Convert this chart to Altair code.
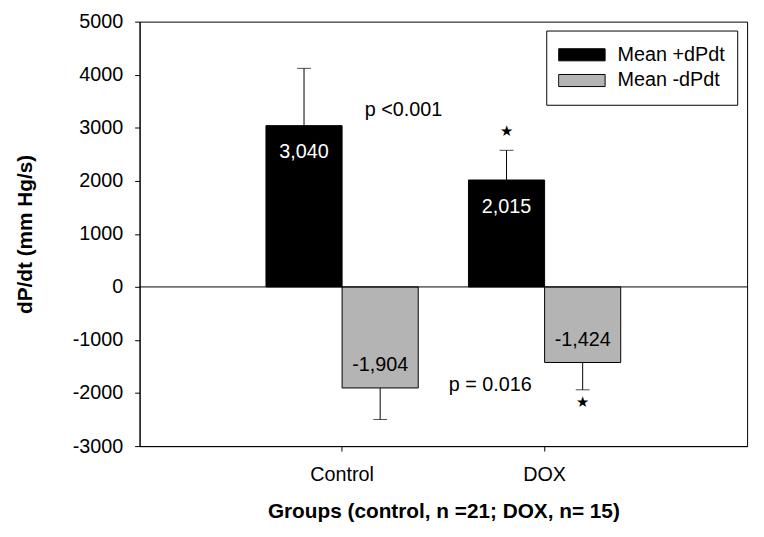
import altair as alt
import pandas as pd

groups = ["Control", "DOX"]
series = ["Mean +dPdt", "Mean -dPdt"]
plus_mean = [3040, 2015]
minus_mean = [-1904, -1424]
plus_err = [1080, 560]
minus_err = [595, 515]
plus_star = [False, True]
minus_star = [False, True]
p_labels = ["p <0.001", "p = 0.016"]
p_groups = ["Control", "DOX"]
p_y = [3340, -1845]
y_ticks = list(range(-3000, 5001, 1000))

FONT = "Liberation Sans"
FS = 20
TFS = 21

rows = []
for i, g in enumerate(groups):
    rows.append(dict(group=g, series=series[0], value=plus_mean[i], err=plus_err[i],
                     star=plus_star[i], sign=1))
    rows.append(dict(group=g, series=series[1], value=minus_mean[i], err=minus_err[i],
                     star=minus_star[i], sign=-1))
df = pd.DataFrame(rows)
df["end"] = df["value"] + df["sign"] * df["err"]
df["label"] = [f"{v:,}" for v in df["value"]]

pdf = pd.DataFrame({"text": p_labels, "group": p_groups, "y": p_y})

yscale = alt.Scale(domain=[-3000, 5000], nice=False, zero=False)
X = alt.X("group:N", sort=groups,
          scale=alt.Scale(paddingInner=0, paddingOuter=0.5),
          axis=alt.Axis(title="Groups (control, n =21; DOX, n= 15)", labelAngle=0,
                        tickSize=5, labelPadding=14, labelFontSize=FS, labelFont=FONT,
                        titleFontSize=TFS, titleFont=FONT, titleFontWeight="bold",
                        titleY=66, titleBaseline="middle"))
XO = alt.XOffset("series:N", sort=series, scale=alt.Scale(paddingInner=0, paddingOuter=0.33))
Y = alt.Y("value:Q", scale=yscale,
          axis=alt.Axis(title="dP/dt (mm Hg/s)", values=y_ticks, labelExpr="'' + datum.value",
                        tickSize=5, labelPadding=12, labelFontSize=FS, labelFont=FONT,
                        titleFontSize=TFS, titleFont=FONT, titleFontWeight="bold",
                        titleX=-115, titleBaseline="middle", grid=False))

base = alt.Chart(df)

err_line = base.mark_rule(color="black", strokeWidth=1).encode(
    x=X, xOffset=XO, y=Y, y2="end:Q")
err_cap = base.mark_tick(color="black", size=14, thickness=1).encode(
    x=X, xOffset=XO, y=alt.Y("end:Q", scale=yscale))

bars = base.mark_bar(stroke="black", strokeWidth=1).encode(
    x=X, xOffset=XO, y=Y, y2=alt.datum(0),
    color=alt.Color("series:N", sort=series,
                    scale=alt.Scale(domain=series, range=["#000000", "#b4b4b4"]),
                    legend=alt.Legend(title=None, orient="none", legendX=411, legendY=9,
                                      strokeColor="black", fillColor="white", padding=12,
                                      labelFontSize=FS, labelFont=FONT, labelColor="black",
                                      symbolType="M-1,-0.26H1V0.26H-1Z", symbolSize=2209,
                                      symbolStrokeColor="black", symbolStrokeWidth=1,
                                      symbolOpacity=1, clipHeight=25, rowPadding=1,
                                      labelOffset=12)))

lab_pos = base.transform_filter("datum.sign > 0").mark_text(
    color="white", fontSize=FS, font=FONT, baseline="middle", dy=27).encode(
    x=X, xOffset=XO, y=Y, text="label:N")
lab_neg = base.transform_filter("datum.sign < 0").mark_text(
    color="black", fontSize=FS, font=FONT, baseline="middle", dy=-23).encode(
    x=X, xOffset=XO, y=Y, text="label:N")

star_pos = base.transform_filter("datum.star && datum.sign > 0").mark_text(
    text="★", color="black", fontSize=15, font="DejaVu Sans", baseline="middle", dy=-19).encode(
    x=X, xOffset=XO, y=alt.Y("end:Q", scale=yscale))
star_neg = base.transform_filter("datum.star && datum.sign < 0").mark_text(
    text="★", color="black", fontSize=15, font="DejaVu Sans", baseline="middle", dy=12).encode(
    x=X, xOffset=XO, y=alt.Y("end:Q", scale=yscale))

pchart = alt.Chart(pdf)
p1 = pchart.transform_filter(alt.datum.group == "Control").mark_text(
    fontSize=FS, font=FONT, color="black", baseline="middle", dx=62).encode(
    x=alt.X("group:N", sort=groups), y=alt.Y("y:Q", scale=yscale), text="text:N")
p2 = pchart.transform_filter(alt.datum.group == "DOX").mark_text(
    fontSize=FS, font=FONT, color="black", baseline="middle", dx=-55).encode(
    x=alt.X("group:N", sort=groups), y=alt.Y("y:Q", scale=yscale), text="text:N")

zero = alt.Chart(pd.DataFrame({"z": [0]})).mark_rule(color="black", strokeWidth=1).encode(
    y=alt.Y("z:Q", scale=yscale))

chart = alt.layer(err_line, err_cap, bars, zero, lab_pos, lab_neg, star_pos, star_neg, p1, p2).properties(
    width=614, height=429,
    autosize=alt.AutoSizeParams(type="none"),
    padding={"left": 133, "top": 11, "right": 9, "bottom": 82},
).configure_view(stroke="black", strokeWidth=1).configure_axis(
    domainColor="black", tickColor="black", labelColor="black", titleColor="black"
)

chart.save("out.html", embed_options={"renderer": "svg", "actions": False})
